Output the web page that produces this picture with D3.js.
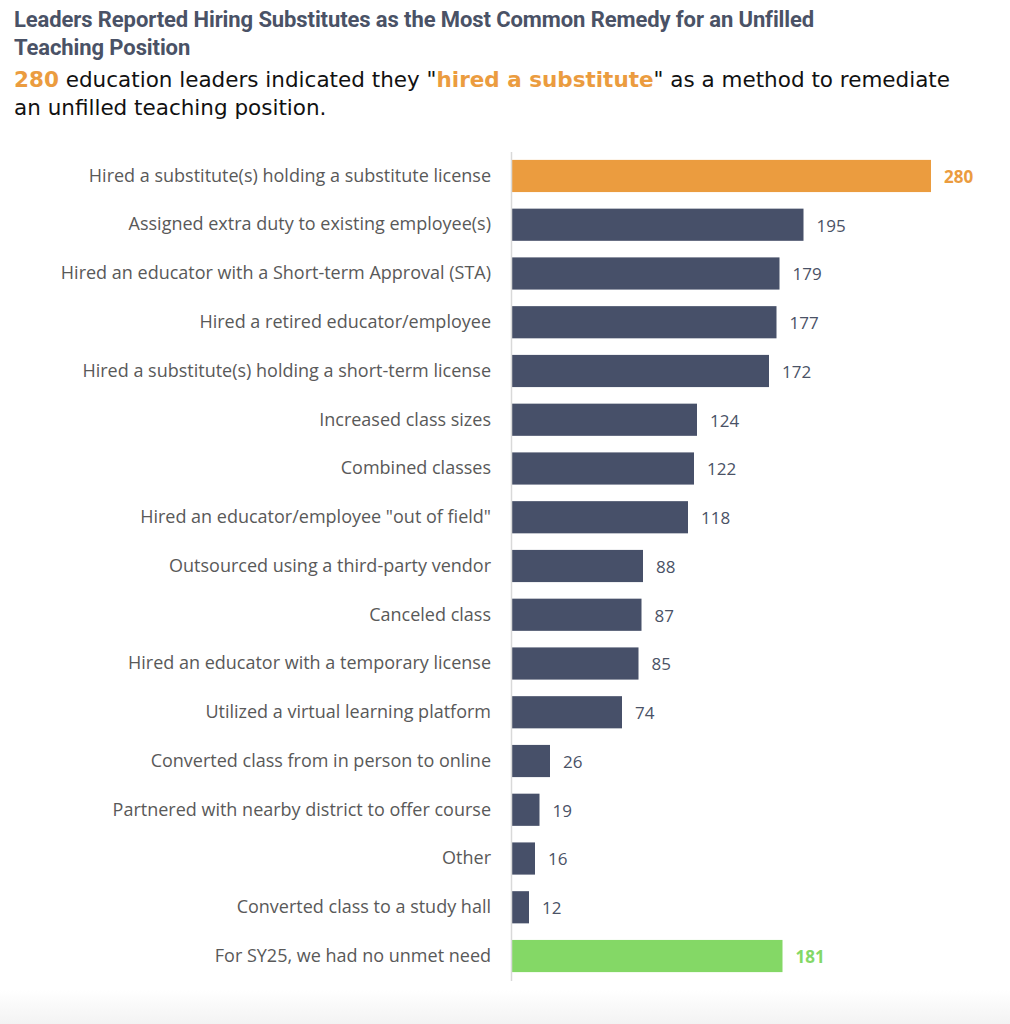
<!DOCTYPE html>
<html>
<head>
<meta charset="utf-8">
<title>Unfilled Teaching Position Remedies</title>
<script src="https://d3js.org/d3.v7.min.js"></script>
<style>
  body { margin: 0; background: #fff; }
</style>
</head>
<body>
<div id="chart"></div>
<script>
// data
var categories = [
  "Hired a substitute(s) holding a substitute license",
  "Assigned extra duty to existing employee(s)",
  "Hired an educator with a Short-term Approval (STA)",
  "Hired a retired educator/employee",
  "Hired a substitute(s) holding a short-term license",
  "Increased class sizes",
  "Combined classes",
  "Hired an educator/employee \"out of field\"",
  "Outsourced using a third-party vendor",
  "Canceled class",
  "Hired an educator with a temporary license",
  "Utilized a virtual learning platform",
  "Converted class from in person to online",
  "Partnered with nearby district to offer course",
  "Other",
  "Converted class to a study hall",
  "For SY25, we had no unmet need"
];
var values = [280, 195, 179, 177, 172, 124, 122, 118, 88, 87, 85, 74, 26, 19, 16, 12, 181];

var width = 1010, height = 1024;
var axisX = 511;

var svg = d3.select("#chart")
  .append("svg")
  .attr("width", width)
  .attr("height", height);

// faint grey fade at the bottom
var defs = svg.append("defs");
var grad = defs.append("linearGradient")
  .attr("id", "fade").attr("x1", 0).attr("y1", 0).attr("x2", 0).attr("y2", 1);
grad.append("stop").attr("offset", "0%").attr("stop-color", "#fff");
grad.append("stop").attr("offset", "100%").attr("stop-color", "#f3f3f3");
svg.append("rect").attr("x", 0).attr("y", 990).attr("width", width).attr("height", 34)
  .attr("fill", "url(#fade)");

// title
var title = svg.append("text")
  .attr("x", 14).attr("y", 27)
  .style("font-family", "Roboto, sans-serif")
  .style("font-weight", "bold")
  .style("font-size", "22px")
  .style("letter-spacing", "-0.1px")
  .style("fill", "#4a5266");
title.append("tspan").attr("x", 14).attr("dy", 0)
  .text("Leaders Reported Hiring Substitutes as the Most Common Remedy for an Unfilled");
title.append("tspan").attr("x", 14).attr("dy", 28).text("Teaching Position");

// subtitle
var sub = svg.append("text")
  .attr("x", 14).attr("y", 87)
  .style("font-family", "'DejaVu Sans', sans-serif")
  .style("font-size", "21.5px")
  .style("fill", "#111");
var l1 = sub.append("tspan").attr("x", 14).attr("dy", 0);
l1.append("tspan").style("fill", "#eb9c3f").style("font-weight", "bold").text("280");
l1.append("tspan").text(" education leaders indicated they \"");
l1.append("tspan").style("fill", "#eb9c3f").style("font-weight", "bold").text("hired a substitute");
l1.append("tspan").text("\" as a method to remediate");
sub.append("tspan").attr("x", 14).attr("dy", 28).text("an unfilled teaching position.");

// scales
var x = d3.scaleLinear()
  .domain([0, 280])
  .range([axisX, 931]);

var y = d3.scaleBand()
  .domain(categories)
  .range([151.6, 980.4])
  .paddingInner(0.34)
  .paddingOuter(0.17);

function barColor(d, i) {
  if (i === 0) return "#eb9c3f";
  if (i === categories.length - 1) return "#84d866";
  return "#475069";
}
function labelColor(d, i) {
  if (i === 0) return "#eb9c3f";
  if (i === categories.length - 1) return "#84d866";
  return "#4a5266";
}

// bars
svg.selectAll(".bar")
  .data(values)
  .enter().append("rect")
  .attr("class", "bar")
  .attr("x", x(0))
  .attr("y", function(d, i) { return y(categories[i]); })
  .attr("width", function(d) { return x(d) - x(0); })
  .attr("height", y.bandwidth())
  .attr("fill", barColor);

// y axis (category labels)
var yAxis = svg.append("g")
  .attr("transform", "translate(" + axisX + ",0)")
  .call(d3.axisLeft(y).tickSize(0).tickPadding(20));
yAxis.select(".domain").attr("stroke", "#d9d9d9").attr("stroke-width", 1.5);
yAxis.selectAll("text")
  .style("font-family", "'Open Sans', sans-serif")
  .style("font-size", "18px")
  .style("fill", "#595959");

// value labels
svg.selectAll(".val")
  .data(values)
  .enter().append("text")
  .attr("class", "val")
  .attr("x", function(d) { return x(d) + 13; })
  .attr("y", function(d, i) { return y(categories[i]) + y.bandwidth() / 2; })
  .attr("dy", "0.4em")
  .style("font-family", "'Open Sans', sans-serif")
  .style("font-size", "17px")
  .style("font-weight", function(d, i) { return (i === 0 || i === categories.length - 1) ? "bold" : "normal"; })
  .style("fill", labelColor)
  .text(function(d) { return d; });
</script>
</body>
</html>
